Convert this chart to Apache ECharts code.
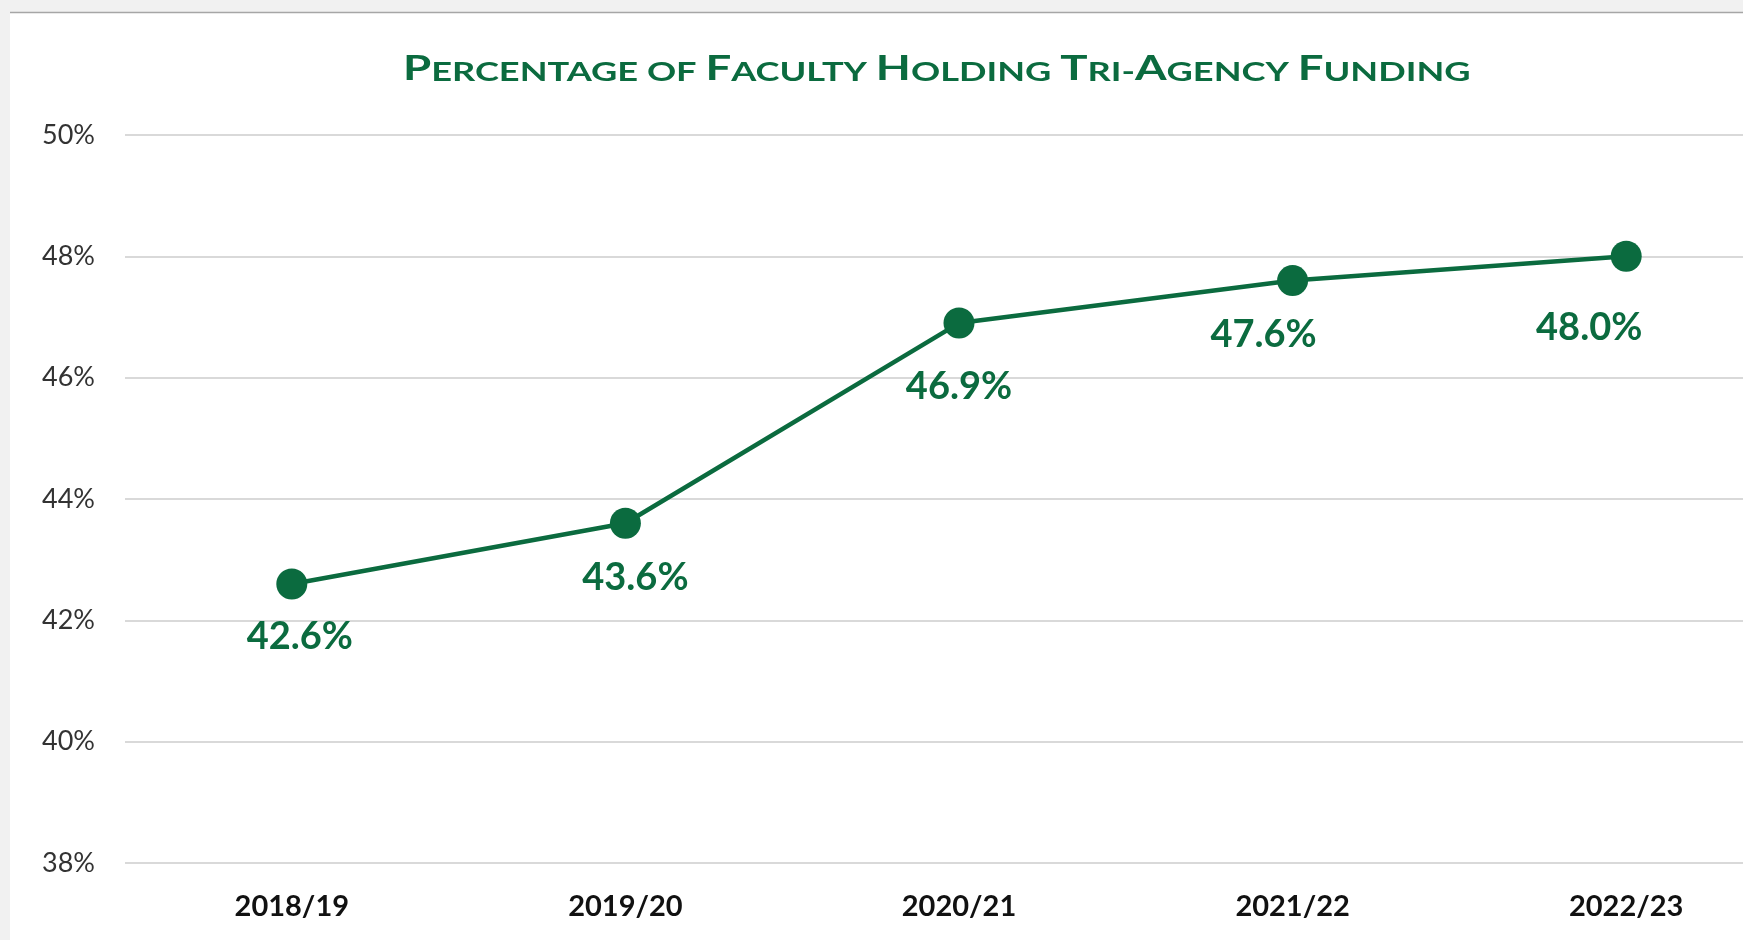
<!DOCTYPE html>
<html>
<head>
<meta charset="utf-8">
<title>Faculty Tri-Agency Funding</title>
<script src="https://cdn.jsdelivr.net/npm/echarts@6/dist/echarts.min.js"></script>
<style>
  html, body { margin: 0; padding: 0; background: #f1f1f1; }
  #chart { width: 1743px; height: 940px; }
</style>
</head>
<body>
<div id="chart"></div>
<script>
// data
var years = ['2018/19', '2019/20', '2020/21', '2021/22', '2022/23']
var pctHolding = [42.6, 43.6, 46.9, 47.6, 48.0]
var yTicks = { min: 38, max: 50, step: 2 }

// manual label nudges (px), like the hand placed labels in the original
var labelNudge = [[8, 53], [10, 54], [0, 64], [-29, 54], [-37, 71]]

var green = '#0b6b3f'

var chart = echarts.init(document.getElementById('chart'))
chart.setOption({
  backgroundColor: '#f1f1f1',
  graphic: [
    {
      type: 'rect',
      z: -10,
      shape: { x: 10, y: 13, width: 1733, height: 927 },
      style: { fill: '#fff' }
    },
    {
      type: 'line',
      z: -9,
      shape: { x1: 10, y1: 12.5, x2: 1743, y2: 12.5 },
      style: { stroke: '#a6a6a6', lineWidth: 1.5 }
    },
    {
      // small caps title, stretched a bit to match the wide Excel title
      type: 'text',
      left: 403,
      top: 52,
      scaleX: 1.34,
      style: {
        text: '{b|P}{s|ERCENTAGE OF }{b|F}{s|ACULTY }{b|H}{s|OLDING }{b|T}{s|RI-}{b|A}{s|GENCY }{b|F}{s|UNDING}',
        rich: {
          b: { fontFamily: 'Lato', fontWeight: 'bold', fontSize: 34, fill: green, verticalAlign: 'bottom' },
          s: { fontFamily: 'Lato', fontWeight: 'bold', fontSize: 27, fill: green, verticalAlign: 'bottom' }
        }
      }
    }
  ],
  grid: {
    left: 125,
    top: 135,
    bottom: 77,
    width: 1668,
    outerBoundsMode: 'none'
  },
  xAxis: {
    type: 'category',
    data: years,
    axisLine: { show: false },
    axisTick: { show: false },
    axisLabel: {
      margin: 29,
      color: '#111',
      fontFamily: 'Lato',
      fontWeight: 'bold',
      fontSize: 29
    }
  },
  yAxis: {
    type: 'value',
    min: yTicks.min,
    max: yTicks.max,
    interval: yTicks.step,
    axisLine: { show: false },
    axisTick: { show: false },
    axisLabel: {
      margin: 30,
      color: '#333',
      fontFamily: 'Lato',
      fontSize: 27,
      formatter: '{value}%'
    },
    splitLine: {
      lineStyle: { color: '#d9d9d9', width: 2 }
    }
  },
  series: [
    {
      type: 'line',
      data: pctHolding.map(function (v, i) {
        return {
          value: v,
          label: { offset: labelNudge[i] }
        }
      }),
      symbol: 'circle',
      symbolSize: 31,
      lineStyle: { color: green, width: 4.5 },
      itemStyle: { color: green },
      label: {
        show: true,
        position: 'inside',
        color: green,
        fontFamily: 'Lato',
        fontWeight: 'bold',
        fontSize: 38,
        formatter: function (p) { return p.value.toFixed(1) + '%' }
      },
      animation: false
    }
  ]
})
</script>
</body>
</html>
